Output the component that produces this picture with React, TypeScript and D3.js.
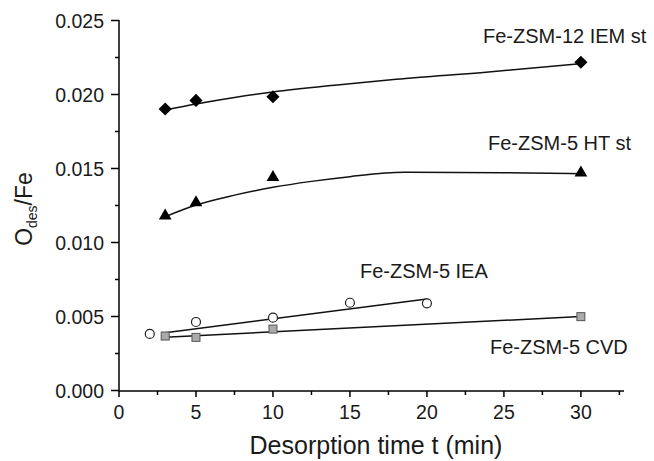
import React from "react";
import * as d3 from "d3";

const xTicks = [0, 5, 10, 15, 20, 25, 30];
const yTicks = [0, 0.005, 0.01, 0.015, 0.02, 0.025];

const iemX = [3, 5, 10, 30];
const iemY = [0.01902, 0.0196, 0.01985, 0.02218];
const iemFitX = [3, 5, 7.5, 10, 14, 18, 24, 30];
const iemFitY = [0.01895, 0.01936, 0.0198, 0.02017, 0.02063, 0.02103, 0.02152, 0.02208];

const htX = [3, 5, 10, 30];
const htY = [0.0118, 0.0127, 0.0144, 0.01471];
const htFitX = [3, 5, 7.5, 10, 12.5, 15, 18.5, 25, 30];
const htFitY = [0.01174, 0.01253, 0.0132, 0.01373, 0.01413, 0.01445, 0.01474, 0.01472, 0.01465];

const ieaX = [2, 5, 10, 15, 20];
const ieaY = [0.00382, 0.00463, 0.00492, 0.00593, 0.00589];
const ieaFitX = [3, 20];
const ieaFitY = [0.0039, 0.00618];

const cvdX = [3, 5, 10, 30];
const cvdY = [0.00368, 0.00359, 0.00415, 0.00499];
const cvdFitX = [3, 30];
const cvdFitY = [0.0036, 0.005];

const labels = ["Fe-ZSM-12 IEM st", "Fe-ZSM-5 HT st", "Fe-ZSM-5 IEA", "Fe-ZSM-5 CVD"];

export default function App() {
  const W = 654, H = 461;
  const x = d3.scaleLinear().domain([0, 32.8]).range([119, 624]);
  const y = d3.scaleLinear().domain([0, 0.025]).range([390.5, 20.5]);
  const font = "Liberation Sans, Arial, sans-serif";
  const line = d3.line<[number, number]>().x(d => x(d[0])).y(d => y(d[1]));
  const curve = d3.line<[number, number]>().x(d => x(d[0])).y(d => y(d[1])).curve(d3.curveMonotoneX);
  const zip = (a: number[], b: number[]) => a.map((v, i) => [v, b[i]] as [number, number]);
  const minorX = d3.range(2.5, 33, 5);
  const minorY = d3.range(0.0025, 0.025, 0.005);
  const diamond = d3.symbol().type(d3.symbolDiamond2).size(110)()!;
  const tri = d3.symbol().type(d3.symbolTriangle).size(70)()!;
  const tc = "#1a1a1a";

  return (
    <svg width={W} height={H} style={{ position: "absolute", left: 0, top: 0 }} fontFamily={font}>
      <rect width={W} height={H} fill="#fff" />
      {/* axes */}
      <line x1={119} x2={119} y1={20} y2={391} stroke="#000" strokeWidth={1.5} />
      <line x1={118} x2={624} y1={391} y2={391} stroke="#000" strokeWidth={1.5} />
      {xTicks.map(t => (
        <g key={"xt" + t}>
          <line x1={x(t)} x2={x(t)} y1={391} y2={397} stroke="#000" strokeWidth={1.5} />
          <text x={x(t)} y={419} fontSize={19.5} textAnchor="middle" fill={tc}>{t}</text>
        </g>
      ))}
      {minorX.map(t => (
        <line key={"xm" + t} x1={x(t)} x2={x(t)} y1={391} y2={395} stroke="#000" strokeWidth={1.5} />
      ))}
      {yTicks.map(t => (
        <g key={"yt" + t}>
          <line x1={111} x2={119} y1={y(t)} y2={y(t)} stroke="#000" strokeWidth={1.5} />
          <text x={104} y={y(t) + 7} fontSize={19.5} textAnchor="end" fill={tc}>{t.toFixed(3)}</text>
        </g>
      ))}
      {minorY.map(t => (
        <line key={"ym" + t} x1={115} x2={119} y1={y(t)} y2={y(t)} stroke="#000" strokeWidth={1.5} />
      ))}
      <text x={376} y={454} fontSize={25} textAnchor="middle" fill={tc}>Desorption time t (min)</text>
      <text transform="translate(32,209) rotate(-90)" fontSize={23} textAnchor="middle" fill={tc}>
        O<tspan fontSize={14} dy={5}>des</tspan><tspan dy={-5}>/Fe</tspan>
      </text>
      {/* fits */}
      <path d={curve(zip(iemFitX, iemFitY))!} fill="none" stroke="#111" strokeWidth={1.5} />
      <path d={curve(zip(htFitX, htFitY))!} fill="none" stroke="#111" strokeWidth={1.5} />
      <path d={line(zip(ieaFitX, ieaFitY))!} fill="none" stroke="#111" strokeWidth={1.5} />
      <path d={line(zip(cvdFitX, cvdFitY))!} fill="none" stroke="#111" strokeWidth={1.5} />
      {/* markers */}
      {iemX.map((v, i) => (
        <path key={"d" + i} d={diamond} transform={`translate(${x(v)},${y(iemY[i])})`} fill="#000" />
      ))}
      {htX.map((v, i) => (
        <path key={"t" + i} d={tri} transform={`translate(${x(v)},${y(htY[i])})`} fill="#000" />
      ))}
      {ieaX.map((v, i) => (
        <circle key={"c" + i} cx={x(v)} cy={y(ieaY[i])} r={4.5} fill="#fff" stroke="#222" strokeWidth={1.2} />
      ))}
      {cvdX.map((v, i) => (
        <rect key={"s" + i} x={x(v) - 4} y={y(cvdY[i]) - 4} width={8} height={8} fill="#aaa" stroke="#555" strokeWidth={1} />
      ))}
      {/* labels */}
      <text x={483} y={43} fontSize={20} fill={tc}>{labels[0]}</text>
      <text x={488} y={150} fontSize={20} fill={tc}>{labels[1]}</text>
      <text x={360} y={278} fontSize={20} fill={tc}>{labels[2]}</text>
      <text x={490} y={354} fontSize={20} fill={tc}>{labels[3]}</text>
    </svg>
  );
}
